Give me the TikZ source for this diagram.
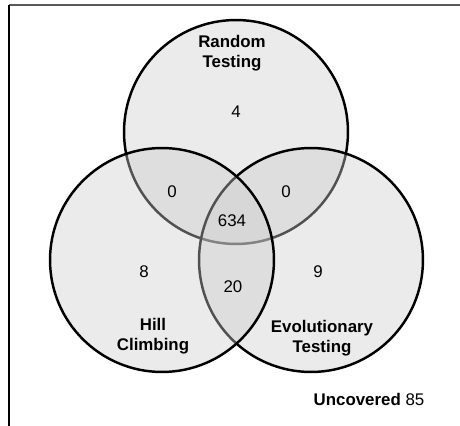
\documentclass[tikz,border=0pt]{standalone}
\usepackage{fontspec}
\setmainfont{Liberation Sans}
\usepackage{xcolor}
\definecolor{shade}{gray}{0.8}
\tikzset{
  every node/.style={
    text=black,
    font=\fontsize{9.6}{11.3}\selectfont
  },
  venn/.style={
    draw=black, line width=1.4pt,
    fill=shade, fill opacity=.4, draw opacity=1
  },
  setname/.style={
    font=\fontsize{9.6}{11.3}\selectfont\bfseries, align=center
  }
}

\begin{document}
\begin{tikzpicture}[x=0.02cm, y=-0.02cm]
    %\draw[gray, very thin] (0,0) grid (460,426);
    \useasboundingbox (0,0) rectangle (460,426);

    \draw [gray!70!black, line width=.8pt] (9,5) -- (460,5);
    \draw [black, line width=.8pt] (9,5) -- (9,426);

    \coordinate (rt) at (236,132);
    \coordinate (hc) at (162,260);
    \coordinate (et) at (311,260);
    \draw [venn] (rt) circle (2.24cm);
    \draw [venn] (et) circle (2.24cm);
    \draw [venn] (hc) circle (2.24cm);

    \node [setname] (lrt) at (232,53) {Random\\Testing};
    \node [setname] (lhc) at (153,336) {Hill\\Climbing};
    \node [setname] (let) at (322,338) {Evolutionary\\Testing};

    \node (nrt) at (236,112) {4};
    \node (nrthc) at (172,192) {0};
    \node (nrtet) at (286,192) {0};
    \node (nall) at (232,221) {634};
    \node (nhc) at (144,272) {8};
    \node (nhcet) at (233,287) {20};
    \node (net) at (318,272) {9};

    \node (nout) at (369,399) {\textbf{Uncovered} 85};
\end{tikzpicture}
\end{document}
